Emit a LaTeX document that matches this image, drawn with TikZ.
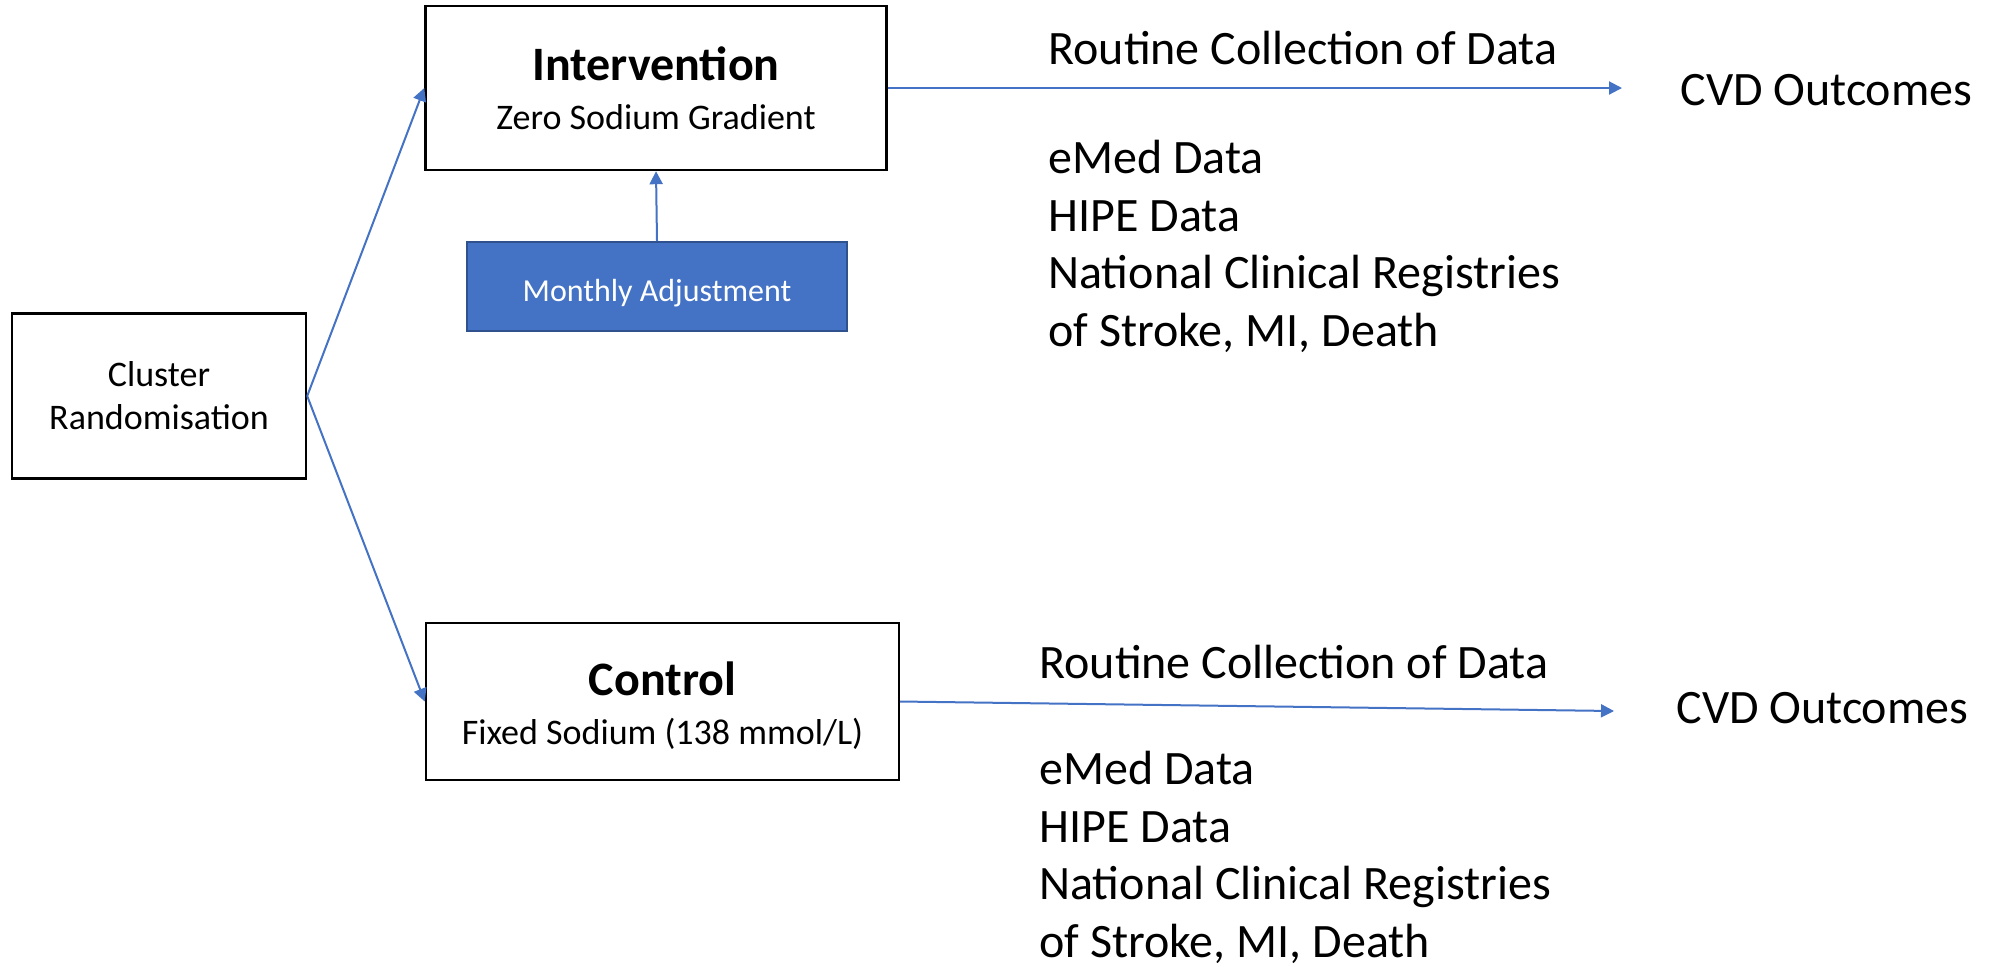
\documentclass[tikz,border=0pt]{standalone}
\usepackage{fontspec}
\setmainfont{Carlito}
\usetikzlibrary{arrows.meta}
\definecolor{accent}{HTML}{4472C4}
\definecolor{accentdark}{HTML}{2F528F}
\begin{document}
\begin{tikzpicture}[x=0.5pt,y=-0.5pt,
  box/.style={draw=black,line width=1.2pt,inner sep=0pt,align=center},
  flow/.style={draw=accent,line width=1pt,-{Triangle[length=6.5pt,width=6.5pt]}},
  big/.style={font=\fontsize{24}{28.8}\selectfont,inner sep=0pt},
  list/.style={big,align=left,anchor=north west}]
\useasboundingbox (0,0) rectangle (2006,966);

% study arms
\node[box,minimum width=147pt,minimum height=82.5pt,font=\fontsize{18}{21.6}\selectfont]
  (clu) at (159,396) {Cluster\\Randomisation};
\node[box,minimum width=230.5pt,minimum height=82pt,font=\fontsize{18}{24.3}\selectfont]
  (int) at (656,88) {{\bfseries\fontsize{24}{29}\selectfont Intervention}\\Zero Sodium Gradient};
\node[box,minimum width=236.5pt,minimum height=78.5pt,font=\fontsize{18}{24.3}\selectfont]
  (ctl) at (662.5,701.5) {{\bfseries\fontsize{24}{29}\selectfont\rule{0pt}{21pt}Control}\\Fixed Sodium (138 mmol/L)};
\node[draw=accentdark,fill=accent,line width=1pt,minimum width=190pt,minimum height=44.5pt,
  inner sep=0pt,text height=18pt,text depth=3.5pt,text=white,font=\fontsize{16}{19}\selectfont]
  (mon) at (657,286.5) {Monthly Adjustment};

% outcome collection
\coordinate (intend) at (1622,88);
\coordinate (ctlend) at (1614,711);
\node[big,anchor=base west] (rc1) at (1048,64) {Routine Collection of Data};
\node[big,anchor=base west] (cvd1) at (1680,105) {CVD Outcomes};
\node[list] (src1) at (1048,140) {eMed Data\\HIPE Data\\National Clinical Registries\\of Stroke, MI, Death};
\node[big,anchor=base west] (rc2) at (1039,678) {Routine Collection of Data};
\node[big,anchor=base west] (cvd2) at (1676,723) {CVD Outcomes};
\node[list] (src2) at (1039,751) {eMed Data\\HIPE Data\\National Clinical Registries\\of Stroke, MI, Death};

% connectors
\draw[flow] (clu.east) -- (int.west);
\draw[flow] (clu.east) -- (ctl.west);
\draw[flow] (mon.north) -- (int.south);
\draw[flow] (int.east) -- (intend);
\draw[flow] (ctl.east) -- (ctlend);
\end{tikzpicture}
\end{document}
